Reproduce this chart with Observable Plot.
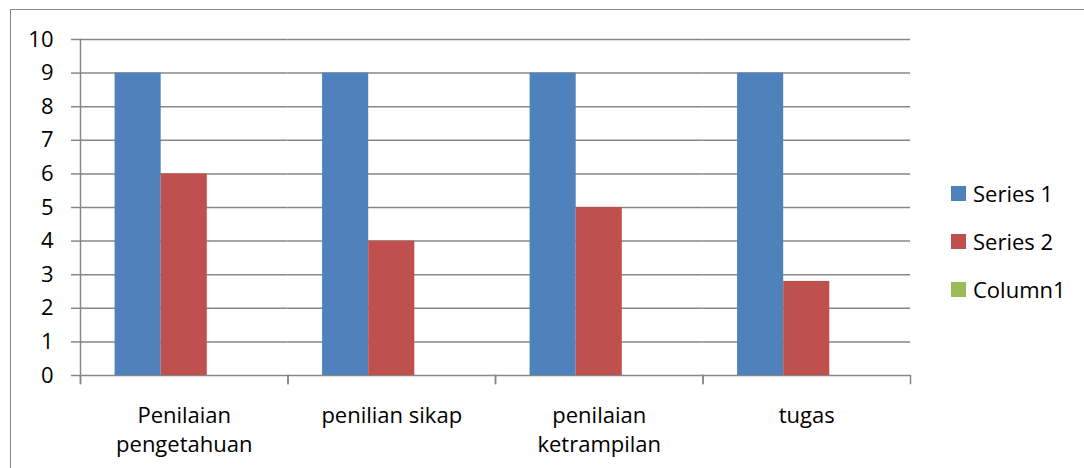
<!DOCTYPE html>
<html>
<head>
<meta charset="utf-8">
<script src="https://cdn.jsdelivr.net/npm/d3@7"></script>
<script src="https://cdn.jsdelivr.net/npm/@observablehq/plot@0.6"></script>
<style>
  html, body { margin: 0; padding: 0; background: #fff; }
  #wrap { position: relative; width: 1084px; height: 468px; overflow: hidden; font-family: "Open Sans", sans-serif; }
  #border { position: absolute; left: 10px; top: 9px; width: 1100px; height: 500px; border: 1.5px solid #878787; box-sizing: border-box; }
  #chart { position: absolute; left: 0; top: 0; }
  #legend { position: absolute; left: 951px; top: 169px; }
  .item { display: flex; align-items: center; height: 48px; font-size: 22px; color: #000; }
  .sw { width: 15px; height: 15px; margin-right: 7px; }
</style>
</head>
<body>
<div id="wrap">
  <div id="border"></div>
  <div id="chart"></div>
  <div id="legend"></div>
</div>
<script>
const categories = ["Penilaian pengetahuan", "penilian sikap", "penilaian ketrampilan", "tugas"];
const categoryLabels = ["Penilaian\npengetahuan", "penilian sikap", "penilaian\nketrampilan", "tugas"];
const seriesNames = ["Series 1", "Series 2", "Column1"];
const series1 = [9, 9, 9, 9];
const series2 = [6, 4, 5, 2.8];
const column1 = [null, null, null, null];
const seriesColors = ["#4F81BD", "#C0504D", "#9BBB59"];
const yTicks = [0, 1, 2, 3, 4, 5, 6, 7, 8, 9, 10];

const allSeries = [series1, series2, column1];
const data = [];
categories.forEach((c, i) => {
  seriesNames.forEach((s, j) => {
    const v = allSeries[j][i];
    if (v != null) data.push({category: c, series: s, value: v});
  });
});

const grid = "#878787";
const chart = Plot.plot({
  width: 940,
  height: 468,
  marginLeft: 80,
  marginRight: 30,
  marginTop: 39,
  marginBottom: 93,
  style: {fontFamily: "Open Sans, sans-serif", fontSize: "22px", color: "#000", background: "transparent"},
  fx: {domain: categories, padding: 0, round: false, label: null},
  x: {domain: seriesNames, paddingInner: 0, paddingOuter: 0.75, round: false, axis: null},
  y: {domain: [0, 10], label: null},
  color: {domain: seriesNames, range: seriesColors},
  marks: [
    Plot.ruleY(yTicks, {stroke: grid, strokeWidth: 1.5, strokeOpacity: 1}),
    Plot.frame({anchor: "left", facetAnchor: "left", stroke: grid, strokeWidth: 1.5, strokeOpacity: 1, insetBottom: -8}),
    Plot.frame({anchor: "left", stroke: grid, strokeWidth: 1.5, strokeOpacity: 1, insetTop: 336, insetBottom: -8}),
    Plot.frame({anchor: "right", stroke: grid, strokeWidth: 1.5, strokeOpacity: 1, insetTop: 336, insetBottom: -8}),
    Plot.barY(data, {fx: "category", x: "series", y: "value", fill: "series"}),
    Plot.axisY({ticks: yTicks, tickSize: 9, tickPadding: 18, stroke: grid, strokeWidth: 1.5, strokeOpacity: 1, fontSize: 22, fill: "#000", label: null}),
    Plot.axisFx({anchor: "bottom", tickSize: 0, tickPadding: 27, fontSize: 22, lineHeight: 1.32, fill: "#000", label: null,
      tickFormat: d => categoryLabels[categories.indexOf(d)]})
  ]
});
document.getElementById("chart").appendChild(chart);

const legend = document.getElementById("legend");
seriesNames.forEach((s, i) => {
  const item = document.createElement("div");
  item.className = "item";
  const sw = document.createElement("div");
  sw.className = "sw";
  sw.style.background = seriesColors[i];
  const t = document.createElement("span");
  t.textContent = s;
  item.appendChild(sw);
  item.appendChild(t);
  legend.appendChild(item);
});
</script>
</body>
</html>
